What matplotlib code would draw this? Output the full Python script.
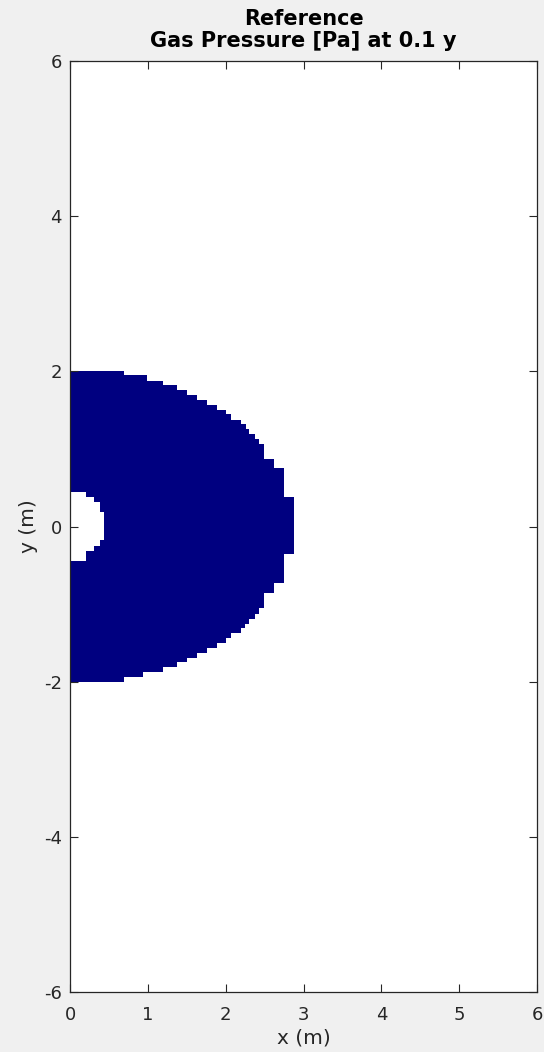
import numpy as np
import matplotlib.pyplot as plt

plt.rcParams["font.family"] = "DejaVu Sans"
plt.rcParams["axes.unicode_minus"] = False

# outer staircase boundary of the gas-pressure region (y edges, x extent per cell row)
y_outer = [-2.00, -1.94, -1.87, -1.81, -1.74, -1.69, -1.63, -1.56, -1.50, -1.44,
           -1.37, -1.31, -1.25, -1.19, -1.13, -1.05, -0.86, -0.73, -0.36, 0.38,
           0.76, 0.87, 1.06, 1.13, 1.19, 1.26, 1.32, 1.37, 1.45, 1.50,
           1.56, 1.63, 1.70, 1.76, 1.82, 1.87, 1.95, 2.00]
x_outer = [0.70, 0.94, 1.20, 1.38, 1.50, 1.63, 1.76, 1.89, 2.00, 2.07,
           2.20, 2.25, 2.30, 2.38, 2.43, 2.49, 2.62, 2.75, 2.88, 2.75,
           2.62, 2.49, 2.43, 2.38, 2.30, 2.26, 2.20, 2.07, 2.00, 1.89,
           1.76, 1.63, 1.50, 1.38, 1.20, 0.99, 0.70]

# inner hole (no value)
y_inner = [-0.44, -0.31, -0.25, -0.18, 0.19, 0.31, 0.38, 0.45]
x_inner = [0.20, 0.31, 0.39, 0.44, 0.39, 0.31, 0.20]

ticks = [0, 1, 2, 3, 4, 5, 6]
yticks = [-6, -4, -2, 0, 2, 4, 6]

fig = plt.figure(figsize=(5.44, 10.52), dpi=100, facecolor="#f0f0f0")
ax = fig.add_axes([0.1287, 0.057, 0.8585, 0.885])
ax.set_facecolor("white")

ax.stairs(x_outer, y_outer, baseline=0, fill=True, orientation="horizontal",
          color="#000080", lw=0)
ax.stairs(x_inner, y_inner, baseline=0, fill=True, orientation="horizontal",
          color="white", lw=0)

ax.set_xlim(0, 6)
ax.set_ylim(-6, 6)
ax.set_xticks(ticks)
ax.set_yticks(yticks)
ax.tick_params(direction="in", top=True, right=True, length=6, width=0.8,
               colors="#262626", labelsize=13)
ax.tick_params(axis="x", pad=10)
ax.tick_params(axis="y", pad=6)
for s in ax.spines.values():
    s.set_color("#262626")
    s.set_linewidth(0.9)

ax.set_xlabel("x (m)", fontsize=14.5, color="#262626", labelpad=3)
ax.set_ylabel("y (m)", fontsize=14.5, color="#262626", labelpad=4)
ax.set_title("Reference\nGas Pressure [Pa] at 0.1 y", fontsize=15,
             fontweight="bold", color="black", pad=10, linespacing=1.12)

fig.savefig("out.png", dpi=100, facecolor=fig.get_facecolor())
